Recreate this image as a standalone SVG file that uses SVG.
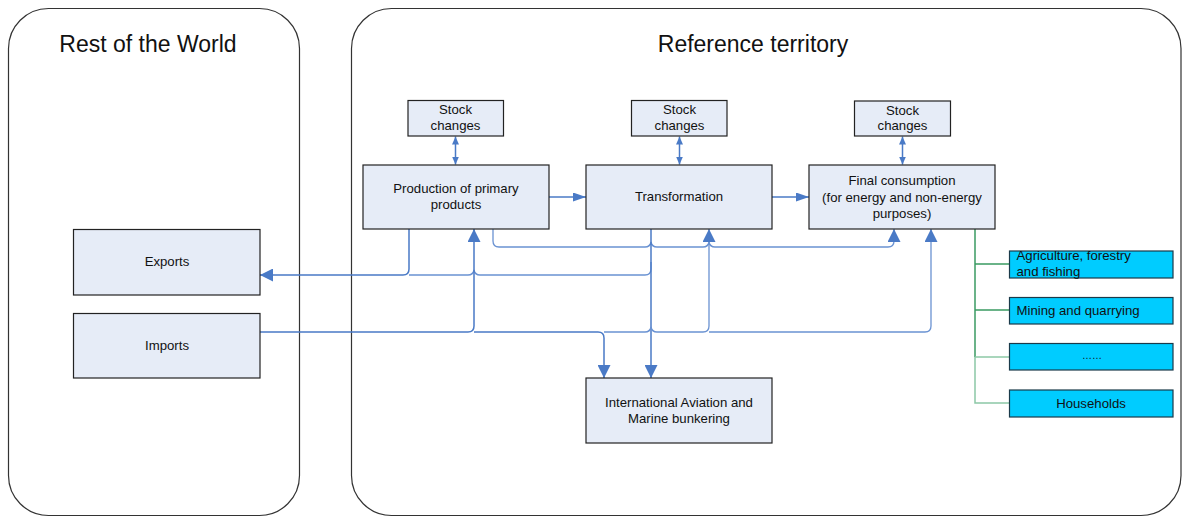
<svg xmlns="http://www.w3.org/2000/svg" width="1183" height="517" viewBox="0 0 1183 517">
<style>
.cont{fill:#fff;stroke:#333;stroke-width:1.2}
.box{fill:#e6ecf7;stroke:#222;stroke-width:1.2}
.sec{fill:#00ccff;stroke:#1a3a4a;stroke-width:1.2}
.t{font-family:"Liberation Sans",Arial,sans-serif;font-size:13.2px;fill:#111;text-anchor:middle}
.tl{font-family:"Liberation Sans",Arial,sans-serif;font-size:13.2px;fill:#111}
.title{font-family:"Liberation Sans",Arial,sans-serif;font-size:23px;fill:#111;text-anchor:middle}
.ln{fill:none;stroke:#4a7ac6;stroke-width:1.5}
.lt{fill:none;stroke:#6a92d2;stroke-width:1.3}
.g1{fill:none;stroke:#3a9a62;stroke-width:1.5}
.g2{fill:none;stroke:#8cc8a6;stroke-width:1.5}
</style>
<defs>
<marker id="ah" viewBox="0 0 13 13" refX="13" refY="6.5" markerWidth="13" markerHeight="13" markerUnits="userSpaceOnUse" orient="auto"><path d="M0,0 L13,6.5 L0,13 z" fill="#4a7ac6"/></marker>
<marker id="am" viewBox="0 0 13 9" refX="13" refY="4.5" markerWidth="13" markerHeight="9" markerUnits="userSpaceOnUse" orient="auto"><path d="M0,0 L13,4.5 L0,9 z" fill="#4a7ac6"/></marker>
<marker id="as" viewBox="0 0 8 7" refX="8" refY="3.5" markerWidth="8" markerHeight="7" markerUnits="userSpaceOnUse" orient="auto-start-reverse"><path d="M0,0 L8,3.5 L0,7 z" fill="#4a7ac6"/></marker>
<marker id="ac" viewBox="0 0 7 6" refX="7" refY="3" markerWidth="7" markerHeight="6" markerUnits="userSpaceOnUse" orient="auto"><path d="M0,0 L7,3 L0,6 z" fill="#4a7ac6"/></marker>
</defs>

<g id="rest-of-world">
<rect class="cont" x="8.5" y="8.5" width="291" height="507" rx="40" ry="40"/>
<text class="title" x="148" y="51.5">Rest of the World</text>
</g>
<g id="reference-territory">
<rect class="cont" x="351.5" y="8.5" width="829.5" height="507" rx="40" ry="40"/>
<text class="title" x="753" y="51.5">Reference territory</text>
</g>

<g id="connectors">
<!-- stock changes double arrows -->
<path class="ln" d="M455.5,136.5 V164.5" marker-start="url(#as)" marker-end="url(#as)"/>
<path class="ln" d="M679.5,136.5 V164.5" marker-start="url(#as)" marker-end="url(#as)"/>
<path class="ln" d="M902.5,136.5 V164.5" marker-start="url(#as)" marker-end="url(#as)"/>
<!-- main flow -->
<path class="ln" d="M549,197 H586" marker-end="url(#am)"/>
<path class="ln" d="M772,197 H809" marker-end="url(#am)"/>
<!-- transformation internal loop -->
<path class="lt" d="M675,199 Q675,171 703,181" marker-end="url(#ac)"/>
<path class="lt" d="M707,189 Q710,216 681,208" marker-end="url(#ac)"/>
<!-- production to exports -->
<path class="ln" d="M409,229 V269 Q409,275 403,275 H260" marker-end="url(#ah)"/>
<!-- transformation to exports -->
<path class="lt" d="M651,262 V269 Q651,275 645,275 H480 Q475,275 474,270 Q473,275 468,275 H409"/>
<!-- production to final consumption -->
<path class="lt" d="M493,229 V241 Q493,247 499,247 H645 Q650,247 651,242 Q652,247 657,247 H703 Q708,247 709,242 Q710,247 715,247 H888 Q894,247 894,241 V229" marker-end="url(#ah)"/>
<!-- transformation to aviation -->
<path class="ln" d="M651,229 V378" marker-end="url(#ah)"/>
<!-- imports -->
<path class="ln" d="M260,332 H468 Q474,332 474,326 V229" marker-end="url(#ah)"/>
<path class="ln" d="M474,332 H598 Q604,332 604,338 V378" marker-end="url(#ah)"/>
<path class="lt" d="M604,332 H645 Q650,332 651,327 Q652,332 657,332 H703 Q709,332 709,326 V229" marker-end="url(#ah)"/>
<path class="lt" d="M709,332 H925 Q931,332 931,326 V229" marker-end="url(#ah)"/>
<!-- sectors -->
<path class="g1" d="M975,229 V357"/>
<path class="g2" d="M975,357 V403 H1009"/>
<path class="g1" d="M975,264 H1009 M975,310 H1009"/>
<path class="g2" d="M975,357 H1009"/>
</g>

<g id="stock-1"><rect class="box" x="408" y="100.5" width="95.5" height="35.5"/><text class="t" x="455.5" y="114">Stock</text><text class="t" x="455.5" y="129.5">changes</text></g>
<g id="stock-2"><rect class="box" x="631.5" y="100.5" width="95.5" height="35.5"/><text class="t" x="679.5" y="114">Stock</text><text class="t" x="679.5" y="129.5">changes</text></g>
<g id="stock-3"><rect class="box" x="854.5" y="101" width="96" height="35"/><text class="t" x="902.5" y="114.5">Stock</text><text class="t" x="902.5" y="130">changes</text></g>

<g id="production"><rect class="box" x="363" y="165" width="186" height="64"/><text class="t" x="456" y="193">Production of primary</text><text class="t" x="456" y="209">products</text></g>
<g id="transformation"><rect class="box" x="586" y="165" width="186" height="64"/><text class="t" x="679" y="201">Transformation</text></g>
<g id="final-consumption"><rect class="box" x="809" y="165" width="186" height="64"/><text class="t" x="902" y="184.5">Final consumption</text><text class="t" x="902" y="201.5">(for energy and non-energy</text><text class="t" x="902" y="217.5">purposes)</text></g>

<g id="exports"><rect class="box" x="73.5" y="229.5" width="186.5" height="65.5"/><text class="t" x="167" y="266">Exports</text></g>
<g id="imports"><rect class="box" x="73.5" y="313.5" width="186.5" height="64.5"/><text class="t" x="167" y="350">Imports</text></g>

<g id="aviation"><rect class="box" x="586" y="378" width="186" height="65"/><text class="t" x="679" y="407">International Aviation and</text><text class="t" x="679" y="422.5">Marine bunkering</text></g>

<g id="sector-agriculture"><rect class="sec" x="1009.5" y="251" width="163.5" height="27"/><text class="tl" x="1016.5" y="260">Agriculture, forestry</text><text class="tl" x="1016.5" y="276">and fishing</text></g>
<g id="sector-mining"><rect class="sec" x="1009.5" y="297.5" width="163.5" height="26.5"/><text class="tl" x="1016.5" y="315">Mining and quarrying</text></g>
<g id="sector-other"><rect class="sec" x="1009.5" y="343.5" width="163.5" height="26.5"/><text class="t" x="1092" y="359" style="font-size:10px">……</text></g>
<g id="sector-households"><rect class="sec" x="1009.5" y="390" width="163.5" height="27"/><text class="t" x="1091" y="408">Households</text></g>
</svg>
